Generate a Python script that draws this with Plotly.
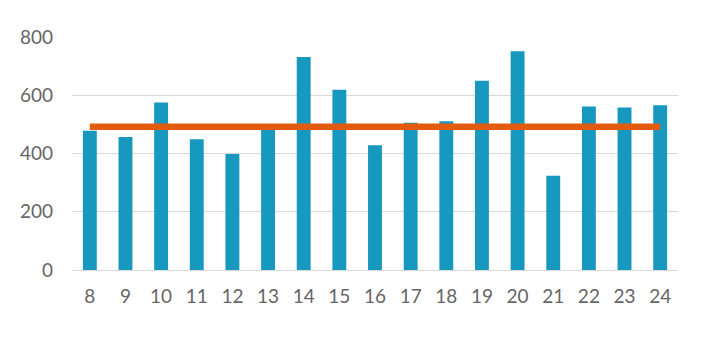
import plotly.graph_objects as go

categories = ["8", "9", "10", "11", "12", "13", "14", "15", "16", "17", "18", "19", "20", "21", "22", "23", "24"]
bar_values = [478, 457, 575, 449, 398, 490, 731, 619, 428, 506, 511, 650, 751, 324, 561, 558, 566]
line_values = [492] * len(categories)
y_ticks = [0, 200, 400, 600, 800]

fig = go.Figure()
fig.add_trace(go.Bar(x=categories, y=bar_values, marker=dict(color="#1799BF", line=dict(width=0)), name="Value"))
fig.add_trace(go.Scatter(x=categories, y=line_values, mode="lines",
                         line=dict(color="#E35B0E", width=6.5), name="Average"))

font = dict(family="Lato, Open Sans, sans-serif", size=19, color="#666666")
fig.update_layout(
    width=711, height=347,
    margin=dict(l=62, r=41, t=29, b=85),
    paper_bgcolor="white", plot_bgcolor="white",
    showlegend=False,
    bargap=0.61,
    font=font,
    xaxis=dict(type="category", showgrid=False, showline=False, zeroline=False,
               ticks="", tickfont=font, ticklabelstandoff=13),
    yaxis=dict(range=[0, 800], tickvals=y_ticks, showgrid=True, gridcolor="#D9D9D9",
               gridwidth=1, zeroline=True, zerolinecolor="#D9D9D9", zerolinewidth=1,
               showline=False, ticks="", tickfont=font, ticklabelstandoff=18),
)
fig.write_html("out.html")
